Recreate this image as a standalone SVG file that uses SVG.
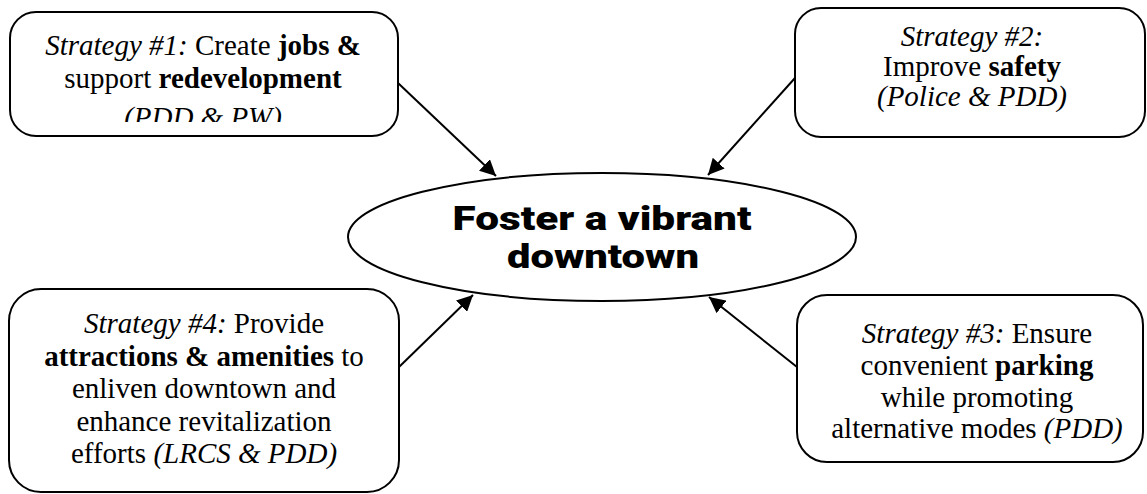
<svg xmlns="http://www.w3.org/2000/svg" width="1147" height="494" viewBox="0 0 1147 494">
<style>
.box{fill:#fff;stroke:#000;stroke-width:2}
.t{font-family:"Liberation Serif","Times New Roman",serif;font-size:29px;fill:#000;text-anchor:middle}
.i{font-style:italic}
.b{font-weight:bold}
.title{font-family:Roboto,"Noto Sans",sans-serif;font-weight:900;font-size:34px;fill:#000;text-anchor:middle}
.conn{stroke:#000;stroke-width:2;fill:none;marker-end:url(#arr)}
</style>
<defs>
<marker id="arr" viewBox="0 0 10 10" refX="10" refY="5" markerWidth="8" markerHeight="8" markerUnits="strokeWidth" orient="auto">
<path d="M0,0 L10,5 L0,10 z" fill="#000"/>
</marker>
<clipPath id="c1"><rect x="10" y="12" width="388" height="110"/></clipPath>
</defs>
<rect width="1147" height="494" fill="#fff"/>
<g id="center">
<ellipse cx="602" cy="237" rx="254" ry="64" fill="#fff" stroke="#000" stroke-width="2"/>
<text class="title" x="602" y="230" textLength="299" lengthAdjust="spacingAndGlyphs">Foster a vibrant</text>
<text class="title" x="603" y="268" textLength="192" lengthAdjust="spacingAndGlyphs">downtown</text>
</g>
<g id="s1">
<rect class="box" x="10" y="12" width="388" height="124" rx="26"/>
<g clip-path="url(#c1)">
<text class="t" x="203" y="55"><tspan class="i">Strategy #1:</tspan> Create <tspan class="b">jobs &amp;</tspan></text>
<text class="t" x="203" y="88">support <tspan class="b">redevelopment</tspan></text>
<text class="t i" x="203" y="127">(PDD &amp; PW)</text>
</g>
</g>
<g id="s2">
<rect class="box" x="795" y="8" width="350" height="129" rx="26"/>
<text class="t i" x="972" y="46">Strategy #2:</text>
<text class="t" x="972" y="76">Improve <tspan class="b">safety</tspan></text>
<text class="t i" x="972" y="106">(Police &amp; PDD)</text>
</g>
<g id="s3">
<rect class="box" x="797" y="295" width="346" height="167" rx="30"/>
<text class="t" x="977" y="343"><tspan class="i">Strategy #3:</tspan> Ensure</text>
<text class="t" x="977" y="375">convenient <tspan class="b">parking</tspan></text>
<text class="t" x="977" y="407">while promoting</text>
<text class="t" x="977" y="438">alternative modes <tspan class="i">(PDD)</tspan></text>
</g>
<g id="s4">
<rect class="box" x="9" y="289" width="390" height="203" rx="32"/>
<text class="t" x="204" y="333"><tspan class="i">Strategy #4:</tspan> Provide</text>
<text class="t" x="204" y="366"><tspan class="b">attractions &amp; amenities</tspan> to</text>
<text class="t" x="204" y="398">enliven downtown and</text>
<text class="t" x="204" y="431">enhance revitalization</text>
<text class="t" x="204" y="463">efforts <tspan class="i">(LRCS &amp; PDD)</tspan></text>
</g>
<g id="connectors">
<line class="conn" x1="398" y1="83" x2="496" y2="176"/>
<line class="conn" x1="795" y1="78" x2="708" y2="175"/>
<line class="conn" x1="797" y1="367" x2="709" y2="297"/>
<line class="conn" x1="399" y1="367" x2="473" y2="295"/>
</g>
</svg>
